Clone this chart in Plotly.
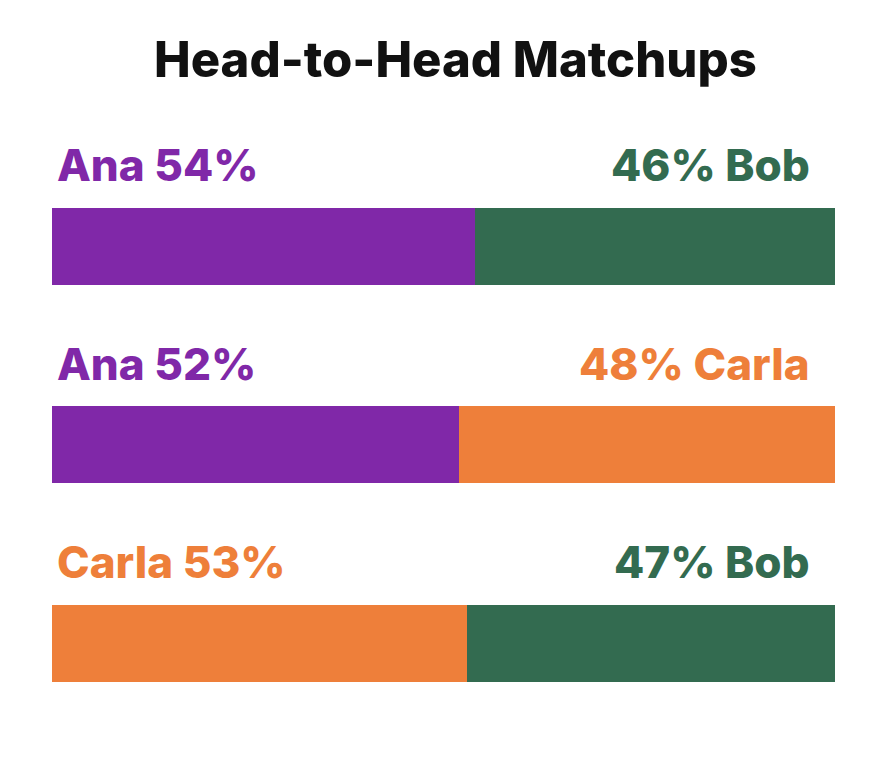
import plotly.graph_objects as go

matchups = [0, 1, 2]
left_names = ["Ana", "Ana", "Carla"]
left_pct = [54, 52, 53]
right_names = ["Bob", "Carla", "Bob"]
right_pct = [46, 48, 47]
colors = {"Ana": "#8028a8", "Bob": "#336b50", "Carla": "#ee7f3a"}

FONT = "Inter"

fig = go.Figure()
fig.add_trace(go.Bar(
    y=matchups, x=left_pct, orientation="h",
    marker=dict(color=[colors[n] for n in left_names], line=dict(width=0)),
    width=0.388, hoverinfo="skip", showlegend=False,
))
fig.add_trace(go.Bar(
    y=matchups, x=right_pct, orientation="h",
    marker=dict(color=[colors[n] for n in right_names], line=dict(width=0)),
    width=0.388, hoverinfo="skip", showlegend=False,
))

annotations = [dict(
    text="Head-to-Head Matchups", xref="paper", yref="paper",
    x=0.5, y=1, yanchor="middle", xanchor="center", xshift=12, yshift=-51,
    showarrow=False, font=dict(family=FONT, size=49, color="#111111", weight=800),
)]
for i, y in enumerate(matchups):
    annotations.append(dict(
        text=f"{left_names[i]} {left_pct[i]}%", xref="x", yref="y",
        x=0, y=y, xanchor="left", yanchor="middle", xshift=3, yshift=81,
        showarrow=False, font=dict(family=FONT, size=44, color=colors[left_names[i]], weight=800),
    ))
    annotations.append(dict(
        text=f"{right_pct[i]}% {right_names[i]}", xref="x", yref="y",
        x=100, y=y, xanchor="right", yanchor="middle", xshift=-23, yshift=81,
        showarrow=False, font=dict(family=FONT, size=44, color=colors[right_names[i]], weight=800),
    ))

fig.update_layout(
    barmode="stack",
    width=882, height=774,
    margin=dict(l=44, r=55, t=0, b=0),
    paper_bgcolor="white", plot_bgcolor="white",
    xaxis=dict(range=[0, 100], visible=False, fixedrange=True),
    yaxis=dict(range=[2.70, -1.199], visible=False, fixedrange=True),
    annotations=annotations,
)

fig.write_html("out.html")
